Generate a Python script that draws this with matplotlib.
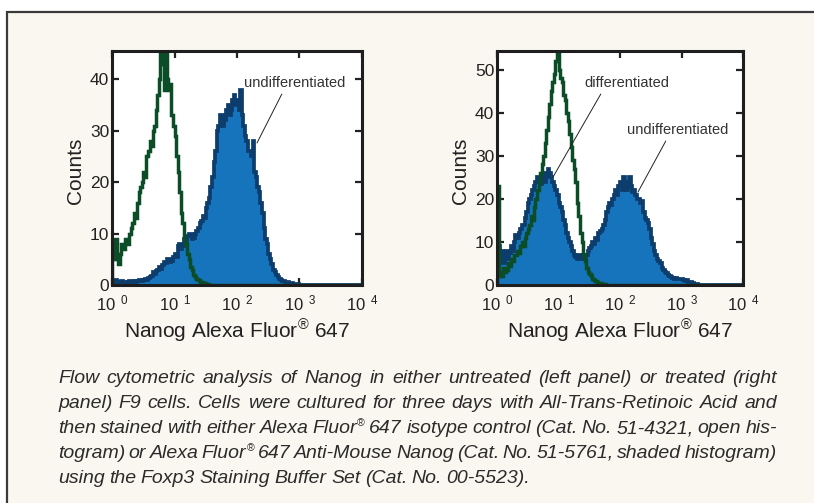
import numpy as np
import matplotlib
matplotlib.use('Agg')
import matplotlib.pyplot as plt
from matplotlib.patches import Rectangle

plt.rcParams['font.family'] = ['Liberation Sans', 'DejaVu Sans']
plt.rcParams['mathtext.fontset'] = 'custom'
plt.rcParams['mathtext.rm'] = 'Liberation Sans'
plt.rcParams['mathtext.it'] = 'Liberation Sans:italic'

# histogram bins: log10 fluorescence, 0.025 decade wide, 10^0 .. 10^4
bin_log_edges = np.arange(0, 4.0001, 0.025)

# left panel (untreated) - 160 bins each
left_isotype = [5, 8, 9, 5, 4, 6, 8, 7, 9, 8, 8, 10, 11, 12, 14, 13, 16, 18, 19, 20,
                22, 21, 25, 26, 28, 27, 30, 31, 34, 37, 40, 45, 43, 38, 46, 40, 38, 39, 33, 31,
                29, 25, 22, 18, 14, 12, 9, 8, 6, 5, 3.5, 3, 2, 1.5, 1.2, 1, 0.6, 0.5, 0.3, 0.3,
                0.2, 0.1, 0, 0, 0, 0, 0, 0, 0, 0, 0, 0, 0, 0, 0, 0, 0, 0, 0, 0,
                0, 0, 0, 0, 0, 0, 0, 0, 0, 0, 0, 0, 0, 0, 0, 0, 0, 0, 0, 0,
                0, 0, 0, 0, 0, 0, 0, 0, 0, 0, 0, 0, 0, 0, 0, 0, 0, 0, 0, 0,
                0, 0, 0, 0, 0, 0, 0, 0, 0, 0, 0, 0, 0, 0, 0, 0, 0, 0, 0, 0,
                0, 0, 0, 0, 0, 0, 0, 0, 0, 0, 0, 0, 0, 0, 0, 0, 0, 0, 0, 0]
left_nanog = [0.3, 0.8, 1, 0.5, 0.4, 0.6, 0.8, 0.5, 0.6, 0.4, 0.5, 0.7, 0.8, 0.6, 0.7, 0.5, 0.8, 0.9, 1, 0.7,
              1, 1.2, 1, 1.4, 1.5, 1.8, 2.5, 2.2, 2.8, 3, 3.5, 3.2, 3.8, 4.5, 4.2, 5, 5, 4.4, 4.6, 5.5,
              6, 5.5, 7.5, 8, 7, 7.5, 9, 8.5, 9.5, 10, 10, 9, 9.2, 10, 10.5, 11, 12, 12.5, 13.5, 13,
              15, 16, 17, 19, 21, 24, 26, 30, 31, 33, 33, 31, 32, 34, 35, 33, 34, 36, 37, 35,
              36, 34, 38, 33, 31, 29, 28, 26, 26, 25, 28, 22, 21, 19, 18, 16, 14, 11, 9, 8,
              6, 5, 4, 3, 2.5, 2, 1.5, 1.2, 1, 0.8, 0.8, 0.5, 0.5, 0.4, 0.3, 0.3, 0.2, 0.2, 0.1, 0.1,
              0, 0, 0, 0, 0, 0, 0, 0, 0, 0, 0, 0, 0, 0, 0, 0, 0, 0, 0, 0,
              0, 0, 0, 0, 0, 0, 0, 0, 0, 0, 0, 0, 0, 0, 0, 0, 0, 0, 0, 0]

# right panel (treated)
right_isotype = [23, 2, 3, 2, 4, 3, 3.5, 5, 4.5, 6, 5.5, 7, 7, 8, 7.5, 9, 10, 9, 11, 12,
                 13, 14, 16, 15, 18, 20, 22, 24, 26, 28, 30, 33, 36, 39, 42, 45, 47, 49, 52, 56,
                 50, 48, 47, 44, 43, 40, 38, 35, 32, 29, 27, 24, 19, 16, 12, 10, 7, 5.5, 4, 3,
                 2.5, 2, 1.5, 1.2, 1, 0.8, 0.5, 0.4, 0.3, 0.2, 0.2, 0.1, 0, 0, 0, 0, 0, 0, 0, 0,
                 0, 0, 0, 0, 0, 0, 0, 0, 0, 0, 0, 0, 0, 0, 0, 0, 0, 0, 0, 0,
                 0, 0, 0, 0, 0, 0, 0, 0, 0, 0, 0, 0, 0, 0, 0, 0, 0, 0, 0, 0,
                 0, 0, 0, 0, 0, 0, 0, 0, 0, 0, 0, 0, 0, 0, 0, 0, 0, 0, 0, 0,
                 0, 0, 0, 0, 0, 0, 0, 0, 0, 0, 0, 0, 0, 0, 0, 0, 0, 0, 0, 0]
right_nanog = [7, 9, 6, 8, 5, 7, 8, 6, 7.5, 9, 8, 10, 11.5, 11, 12, 13, 14, 14, 15.5, 17,
               19, 20, 21, 22, 23, 24, 25, 24, 23.5, 25, 26, 24, 25, 27, 26, 25, 24, 23, 22, 21,
               19, 18, 17, 15, 14, 12, 11, 10, 9, 8, 7, 6.5, 6, 7, 6, 6.5, 7, 6, 7, 8,
               8.5, 9, 10, 9.5, 11, 10.5, 12, 12.5, 13, 14, 15, 17, 18, 19, 18.5, 20, 21, 22, 21, 23,
               24, 22, 25, 23, 22, 24, 25, 23, 21.5, 22, 21, 20, 20, 19, 19.5, 17, 15.5, 15, 14.5, 13,
               11, 9.5, 8, 7, 6, 5.5, 5, 4, 3.5, 3, 2.8, 2.3, 2, 1.8, 1.7, 1.5, 1.6, 1.4, 1.5, 1.3,
               1.4, 1.2, 1, 1.1, 0.8, 0.7, 0.6, 0.5, 0.3, 0.2, 0.2, 0.1, 0, 0, 0, 0, 0, 0, 0, 0,
               0, 0, 0, 0, 0, 0, 0, 0, 0, 0, 0, 0, 0, 0, 0, 0, 0, 0, 0, 0]

x_ticks = [1, 10, 100, 1000, 10000]
x_tick_labels = [r'10$^{\;\;0}$', r'10$^{\;\;1}$', r'10$^{\;\;2}$', r'10$^{\;\;3}$', r'10$^{\;\;4}$']
left_yticks = [0, 10, 20, 30, 40]
right_yticks = [0, 10, 20, 30, 40, 50]

caption = [
    "Flow cytometric analysis of Nanog in either untreated (left panel) or treated (right",
    "panel) F9 cells. Cells were cultured for three days with All-Trans-Retinoic Acid and",
    "then stained with either Alexa Fluor® 647 isotype control (Cat. No. 51-4321, open his-",
    "togram) or Alexa Fluor® 647 Anti-Mouse Nanog (Cat. No. 51-5761, shaded histogram)",
    "using the Foxp3 Staining Buffer Set (Cat. No. 00-5523).",
]

FILL = '#1674bc'
EDGE = '#0c3d6d'
GREEN = '#0a4d27'
BG = '#faf7f1'
TXT = '#2b2b2b'

W, H = 814, 503
fig = plt.figure(figsize=(W / 100, H / 100), dpi=100)
fig.patch.set_facecolor('white')
fig.patches.append(Rectangle((7 / W, -0.1), 1.2, (H - 12) / H + 0.1, transform=fig.transFigure,
                             facecolor=BG, edgecolor='#3a3a3a', lw=1.6, zorder=-5))

edges = 10 ** bin_log_edges


def panel(rect, nanog, isotype, yticks, ytop, notes):
    ax = fig.add_axes(rect)
    ax.set_facecolor('white')
    ax.stairs(nanog, edges, fill=True, color=FILL, zorder=2)
    ax.stairs(nanog, edges, color=EDGE, lw=2.7, zorder=3)
    ax.stairs(isotype, edges, color=GREEN, lw=2.5, zorder=4)
    ax.set_xscale('log')
    ax.set_xlim(1, 10000)
    ax.set_ylim(0, ytop)
    ax.set_xticks(x_ticks)
    ax.set_xticklabels(x_tick_labels)
    ax.minorticks_off()
    ax.set_yticks(yticks)
    ax.tick_params(direction='in', length=5, width=1.6, top=True, right=True,
                   labelsize=12.5, colors='#222222')
    ax.tick_params(axis='x', pad=6, labelsize=12)
    ax.tick_params(axis='y', pad=2)
    for s in ax.spines.values():
        s.set_linewidth(2.2)
        s.set_color('#1e1e1e')
        s.set_zorder(6)
    ax.set_xlabel('Nanog Alexa Fluor$^{®}$ 647', fontsize=15, color='#222222')
    ax.set_ylabel('Counts', fontsize=15, color='#222222')
    ax.xaxis.set_label_coords(0.5, -0.14)
    ax.yaxis.set_label_coords(-0.11, 0.49)
    for label, txy, xy, rel in notes:
        ax.annotate(label, xy=xy, xytext=txy, xycoords='axes fraction', textcoords='axes fraction',
                    ha='center', va='center', fontsize=10.5, color='#333333', zorder=7,
                    arrowprops=dict(arrowstyle='-', color='#222222', lw=0.7,
                                    relpos=(rel, 0), shrinkA=1, shrinkB=0))
    return ax


panel([112 / W, (H - 285) / H, 250 / W, 234 / H], left_nanog, left_isotype, left_yticks, 45.5,
      [('undifferentiated', (0.732, 0.863), (0.58, 0.607), 0.39)])
panel([497 / W, (H - 285) / H, 246 / W, 234 / H], right_nanog, right_isotype, right_yticks, 54.3,
      [('differentiated', (0.528, 0.863), (0.228, 0.462), 0.22),
       ('undifferentiated', (0.736, 0.662), (0.573, 0.397), 0.4)])

# justified caption, ® drawn as a small raised mark
r = fig.canvas.get_renderer()
x0, x1 = 58, 777
cap_size = 14
for i, line in enumerate(caption):
    yb = H - (383 + 25 * i)
    words = line.split(' ')
    groups = []
    for w in words:
        parts = [fig.text(0, yb / H, w.replace('®', ''), fontsize=cap_size, style='italic',
                          color=TXT, va='baseline')]
        if '®' in w:
            parts.append(fig.text(0, (yb + 7) / H, '®', fontsize=cap_size * 0.55,
                                  color=TXT, va='baseline'))
        groups.append(parts)
    widths = [[p.get_window_extent(r).width for p in g] for g in groups]
    total = sum(sum(ws) for ws in widths)
    if i < len(caption) - 1:
        gap = (x1 - x0 - total) / (len(words) - 1)
    else:
        gap = 4.5
    x = x0
    for g, ws in zip(groups, widths):
        for p, w in zip(g, ws):
            p.set_x(x / W)
            x += w
        x += gap

fig.savefig('out.png', dpi=100, facecolor=fig.get_facecolor())
